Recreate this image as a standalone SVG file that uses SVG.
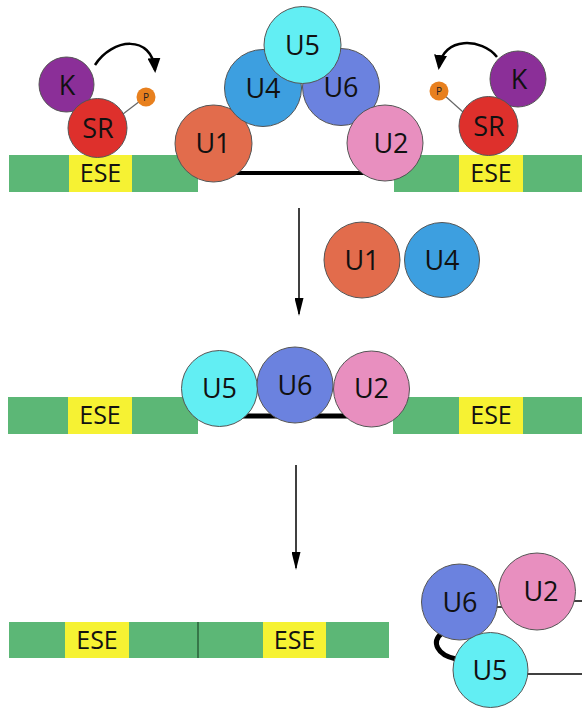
<svg xmlns="http://www.w3.org/2000/svg" width="582" height="708" viewBox="0 0 582 708">
<style>
.bg{fill:#ffffff}
.strip{fill:#5cb776}
.ese{fill:#f6f233}
.lbl{font-family:"Open Sans","Noto Sans",sans-serif;font-size:27px;fill:#111;text-anchor:middle}
.eset{font-family:"Open Sans","Noto Sans",sans-serif;font-size:25px;fill:#111;text-anchor:middle}
.pl{font-family:"Open Sans","Noto Sans",sans-serif;font-size:10px;fill:#222;text-anchor:middle}
.c{stroke:#555;stroke-width:1}
.u1{fill:#e26c4c}.u2{fill:#e88fbf}.u4{fill:#3d9fe0}.u5{fill:#62eef3}.u6{fill:#6b82df}
.k{fill:#8b2f98}.sr{fill:#de302c}.p{fill:#e8801e}
.rna{stroke:#000;fill:none}
.arr{stroke:#000;fill:none;stroke-width:1.5}
.curv{stroke:#000;fill:none;stroke-width:2.5}
</style>
<defs>
<marker id="ahv" markerWidth="18" markerHeight="9" refX="16" refY="4.5" orient="auto" markerUnits="userSpaceOnUse" viewBox="0 0 18 9">
<path d="M0,0 L18,4.5 L0,9 Z" fill="#000"/>
</marker>
<marker id="ahc" markerWidth="15" markerHeight="13" refX="12" refY="6.5" orient="auto" markerUnits="userSpaceOnUse" viewBox="0 0 15 13">
<path d="M0,0 L15,6.5 L0,13 Z" fill="#000"/>
</marker>
</defs>
<rect class="bg" x="0" y="0" width="582" height="708"/>

<g id="connectors">
  <line class="rna" x1="230" y1="173" x2="370" y2="173" stroke-width="4"/>
  <line class="rna" x1="240" y1="416" x2="350" y2="416" stroke-width="5"/>
  <line class="arr" x1="299" y1="208" x2="299" y2="314" marker-end="url(#ahv)"/>
  <line class="arr" x1="296" y1="465" x2="296" y2="568" marker-end="url(#ahv)"/>
  <path class="curv" d="M95,65 C112,38 152,34 155,70" marker-end="url(#ahc)"/>
  <path class="curv" d="M497,57 C482,38 443,36 439,67" marker-end="url(#ahc)"/>
  <line stroke="#666" stroke-width="1.2" x1="123" y1="114" x2="140" y2="101"/>
  <line stroke="#666" stroke-width="1.2" x1="463" y1="112" x2="444" y2="95"/>
  <line stroke="#000" stroke-width="1.5" x1="459" y1="607" x2="537" y2="607"/>
  <line stroke="#000" stroke-width="1.5" x1="560" y1="601" x2="582" y2="601"/>
  <line stroke="#000" stroke-width="1.5" x1="510" y1="674" x2="582" y2="674"/>
  <path stroke="#000" stroke-width="5" fill="none" d="M442,633 C431,642 437,655 456,659"/>
</g>

<g id="strip-top-left">
  <rect class="strip" x="9" y="155" width="189" height="37"/>
  <rect class="ese" x="69" y="155" width="63" height="37"/>
  <text class="eset" x="100.5" y="182">ESE</text>
</g>
<g id="strip-top-right">
  <rect class="strip" x="394" y="155" width="188" height="37"/>
  <rect class="ese" x="459" y="155" width="64" height="37"/>
  <text class="eset" x="491" y="182">ESE</text>
</g>
<g id="strip-mid-left">
  <rect class="strip" x="8" y="397" width="190" height="37"/>
  <rect class="ese" x="68" y="397" width="64" height="37"/>
  <text class="eset" x="100" y="424">ESE</text>
</g>
<g id="strip-mid-right">
  <rect class="strip" x="393" y="397" width="189" height="37"/>
  <rect class="ese" x="459" y="397" width="64" height="37"/>
  <text class="eset" x="491" y="424">ESE</text>
</g>
<g id="strip-bottom">
  <rect class="strip" x="9" y="622" width="380" height="36"/>
  <rect class="ese" x="65" y="622" width="64" height="36"/>
  <rect class="ese" x="263" y="622" width="63" height="36"/>
  <line x1="198" y1="622" x2="198" y2="658" stroke="#1d4a2a" stroke-width="1.2"/>
  <text class="eset" x="97" y="649">ESE</text>
  <text class="eset" x="294.5" y="649">ESE</text>
</g>

<g id="top-U1"><circle class="c u1" cx="213.5" cy="143.5" r="38.5"/><text class="lbl" x="213" y="153">U1</text></g>
<g id="top-U4"><circle class="c u4" cx="263" cy="88" r="38.5"/><text class="lbl" x="263" y="98">U4</text></g>
<g id="top-U6"><circle class="c u6" cx="341" cy="87" r="38.5"/><text class="lbl" x="341" y="97">U6</text></g>
<g id="top-U2"><circle class="c u2" cx="385" cy="143" r="38"/><text class="lbl" x="391" y="153">U2</text></g>
<g id="top-U5"><circle class="c u5" cx="302.5" cy="45" r="38.5"/><text class="lbl" x="302.5" y="55">U5</text></g>

<g id="left-K"><circle class="c k" cx="66.5" cy="84.5" r="27.5"/><text class="lbl" x="67" y="95">K</text></g>
<g id="left-SR"><circle class="c sr" cx="97.5" cy="128" r="29.5"/><text class="lbl" x="98" y="138">SR</text></g>
<g id="left-P"><circle class="p" cx="146" cy="97" r="9.5"/><text class="pl" x="146" y="101">P</text></g>

<g id="right-K"><circle class="c k" cx="518" cy="79" r="28"/><text class="lbl" x="519" y="89">K</text></g>
<g id="right-SR"><circle class="c sr" cx="488.5" cy="126" r="29.5"/><text class="lbl" x="489" y="136">SR</text></g>
<g id="right-P"><circle class="p" cx="439" cy="91" r="9.5"/><text class="pl" x="439" y="95">P</text></g>

<g id="free-U1"><circle class="c u1" cx="362" cy="260" r="38"/><text class="lbl" x="362" y="270">U1</text></g>
<g id="free-U4"><circle class="c u4" cx="442" cy="260" r="37.5"/><text class="lbl" x="442" y="270">U4</text></g>

<g id="mid-U5"><circle class="c u5" cx="219.5" cy="388.5" r="38"/><text class="lbl" x="219.5" y="398">U5</text></g>
<g id="mid-U2"><circle class="c u2" cx="371.5" cy="389" r="38"/><text class="lbl" x="371.5" y="398">U2</text></g>
<g id="mid-U6"><circle class="c u6" cx="295" cy="385" r="38"/><text class="lbl" x="295" y="395">U6</text></g>

<g id="bot-U2"><circle class="c u2" cx="537" cy="591.5" r="38.5"/><text class="lbl" x="541" y="601">U2</text></g>
<g id="bot-U6"><circle class="c u6" cx="459.5" cy="602" r="38"/><text class="lbl" x="460" y="612">U6</text></g>
<g id="bot-U5"><circle class="c u5" cx="490.5" cy="670" r="37.5"/><text class="lbl" x="490" y="680">U5</text></g>
</svg>
